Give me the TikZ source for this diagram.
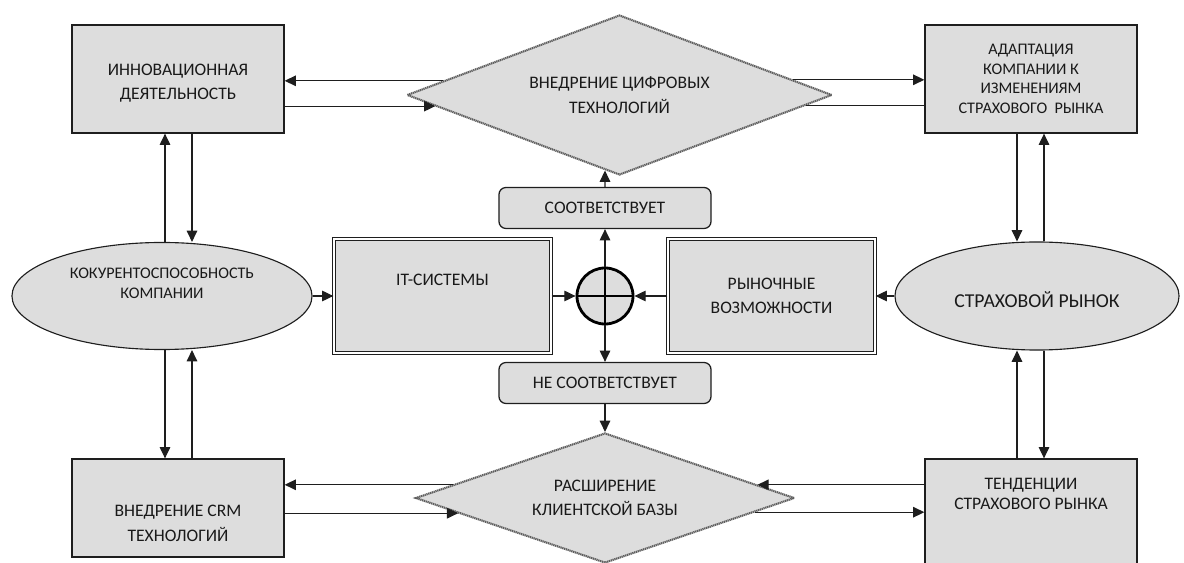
\documentclass[tikz,border=0pt]{standalone}
\usepackage{fontspec}
\setmainfont{Carlito}
\usepackage{tikz}
\usetikzlibrary{arrows.meta, shapes.geometric, positioning, calc}
\definecolor{grisrelleno}{HTML}{DDDDDD}
\definecolor{grisborde}{HTML}{1E1E1E}
\definecolor{grisrombo}{HTML}{5E5E5E}

\begin{document}
\begin{tikzpicture}[
  x=0.025cm, y=-0.025cm,
  font=\fontsize{12.5}{17.5}\selectfont,
  caja/.style={
    rectangle, draw=grisborde, fill=grisrelleno,
    line width=0.9pt, text=black!90, align=center, inner sep=2pt,
    minimum width=5.3cm, minimum height=2.7cm
  },
  cajadoble/.style={
    rectangle, draw=grisborde, fill=grisrelleno,
    double=white, double distance=1.1pt, line width=0.9pt,
    text=black!90, align=center, minimum height=2.85cm
  },
  rombo/.style={
    diamond, draw=grisrombo, fill=grisrelleno,
    line width=1.5pt, dash pattern=on 0.9pt off 0.45pt,
    text=black!90, align=center, inner sep=0pt
  },
  elipse/.style={
    ellipse, draw=grisborde, fill=grisrelleno, line width=0.8pt,
    text=black!90, align=center, inner sep=0pt
  },
  etiqueta/.style={
    rectangle, rounded corners=5pt, draw=grisborde, fill=grisrelleno,
    line width=0.9pt, text=black!90,
    minimum width=5.3cm, minimum height=1.025cm
  },
  arr/.style={-{Triangle[length=8pt,width=7.5pt]}, grisborde, line width=0.8pt},
  lin/.style={grisborde, line width=0.8pt}
]
  \useasboundingbox (0,0) rectangle (1184,563);
  \clip (0,0) rectangle (1184,563);

  % rombos
  \node[rombo, aspect=2.65, minimum width=10.625cm, minimum height=4cm] (dtop) at (619.5,95)
    {ВНЕДРЕНИЕ ЦИФРОВЫХ\\ТЕХНОЛОГИЙ};
  \node[rombo, aspect=2.9, minimum width=9.475cm, minimum height=3.25cm] (dbot) at (605,498)
    {РАСШИРЕНИЕ\\КЛИЕНТСКОЙ БАЗЫ};

  % cajas de las esquinas
  \node[caja] (inno) at (178,79) {\rule{0pt}{14pt}ИННОВАЦИОННАЯ\\ДЕЯТЕЛЬНОСТЬ};
  \node[caja, font=\fontsize{11.5}{14}\selectfont] (adap) at (1031,79)
    {АДАПТАЦИЯ\\КОМПАНИИ К\\ИЗМЕНЕНИЯМ\\СТРАХОВОГО\ \ РЫНКА};
  \node[caja, minimum height=2.45cm] (crm) at (178,508)
    {\strut\\ВНЕДРЕНИЕ CRM\\ТЕХНОЛОГИЙ};
  \node[caja, minimum height=2.875cm, font=\fontsize{12.5}{14}\selectfont] (tend) at (1031,516.5)
    {ТЕНДЕНЦИИ\\СТРАХОВОГО РЫНКА\\\strut\\\strut};

  % elipses
  \node[elipse, minimum width=7.5cm, minimum height=2.675cm,
        font=\fontsize{11.5}{14}\selectfont] (elizq) at (162,296)
    {КОКУРЕНТОСПОСОБНОСТЬ\\КОМПАНИИ\\\strut};
  \node[elipse, minimum width=7.1cm, minimum height=2.7cm,
        font=\fontsize{14}{17}\selectfont] (elder) at (1037,296)
    {\rule{0pt}{17pt}СТРАХОВОЙ РЫНОК};

  % centro
  \node[cajadoble, minimum width=5.425cm] (it) at (442.5,296) {IT-СИСТЕМЫ\\\strut};
  \node[cajadoble, minimum width=5.175cm] (mercado) at (771.5,296)
    {РЫНОЧНЫЕ\\ВОЗМОЖНОСТИ};
  \node[circle, draw=black, fill=grisrelleno, line width=2pt,
        minimum size=1.4cm, inner sep=0pt] (suma) at (605,296) {};
  \draw[line width=2pt] (suma.north) -- (suma.south) (suma.west) -- (suma.east);
  \node[etiqueta] (si) at (605,208) {СООТВЕТСТВУЕТ};
  \node[etiqueta] (no) at (605,383) {НЕ СООТВЕТСТВУЕТ};

  % puntos sobre los rombos
  \coordinate (d1) at ($(dtop.west)!.175!(dtop.north)$);
  \coordinate (d2) at ($(dtop.west)!.1375!(dtop.south)$);
  \coordinate (d3) at ($(dtop.east)!.1875!(dtop.north)$);
  \coordinate (d4) at ($(dtop.east)!.125!(dtop.south)$);
  \coordinate (d5) at ($(dbot.west)!.2!(dbot.north)$);
  \coordinate (d6) at ($(dbot.west)!.23!(dbot.south)$);
  \coordinate (d7) at ($(dbot.east)!.2!(dbot.north)$);
  \coordinate (d8) at ($(dbot.east)!.215!(dbot.south)$);
  \coordinate (d9) at ($(dtop.south)!.068!(dtop.west)$);

  \draw[arr] (d1) -- (d1 -| inno.east);
  \draw[arr] (d2 -| inno.east) -- (d2);
  \draw[arr] (d3) -- (d3 -| adap.west);
  \draw[lin] (d4 -| adap.west) -- (d4);
  \draw[arr] (d5) -- (d5 -| crm.east);
  \draw[arr] (d6 -| crm.east) -- (d6);
  \draw[arr] (d7 -| tend.west) -- (d7);
  \draw[arr] (d8) -- (d8 -| tend.west);

  % verticales
  \coordinate (xa) at (165,0);
  \coordinate (xb) at (192,0);
  \coordinate (xc) at (1017,0);
  \coordinate (xd) at (1044,0);
  \draw[arr] (elizq.north -| xa) -- (inno.south -| xa);
  \draw[arr] (inno.south -| xb) -- (elizq.north -| xb);
  \draw[arr] (elizq.south -| xa) -- (crm.north -| xa);
  \draw[arr] (crm.north -| xb) -- (elizq.south -| xb);
  \draw[arr] (adap.south -| xc) -- (elder.north -| xc);
  \draw[arr] (elder.north -| xd) -- (adap.south -| xd);
  \draw[arr] (tend.north -| xc) -- (elder.south -| xc);
  \draw[arr] (elder.south -| xd) -- (tend.north -| xd);

  % centro
  \foreach \a/\b in {elizq/it, it/suma, mercado/suma, elder/mercado}
    \draw[arr] (\a) -- (\b);
  \draw[arr] (suma.north) -- (si.south);
  \draw[arr] (suma.south) -- (no.north);
  \draw[arr] (si.north) -- (d9);
  \draw[arr] (no.south) -- (dbot.north);
\end{tikzpicture}
\end{document}
